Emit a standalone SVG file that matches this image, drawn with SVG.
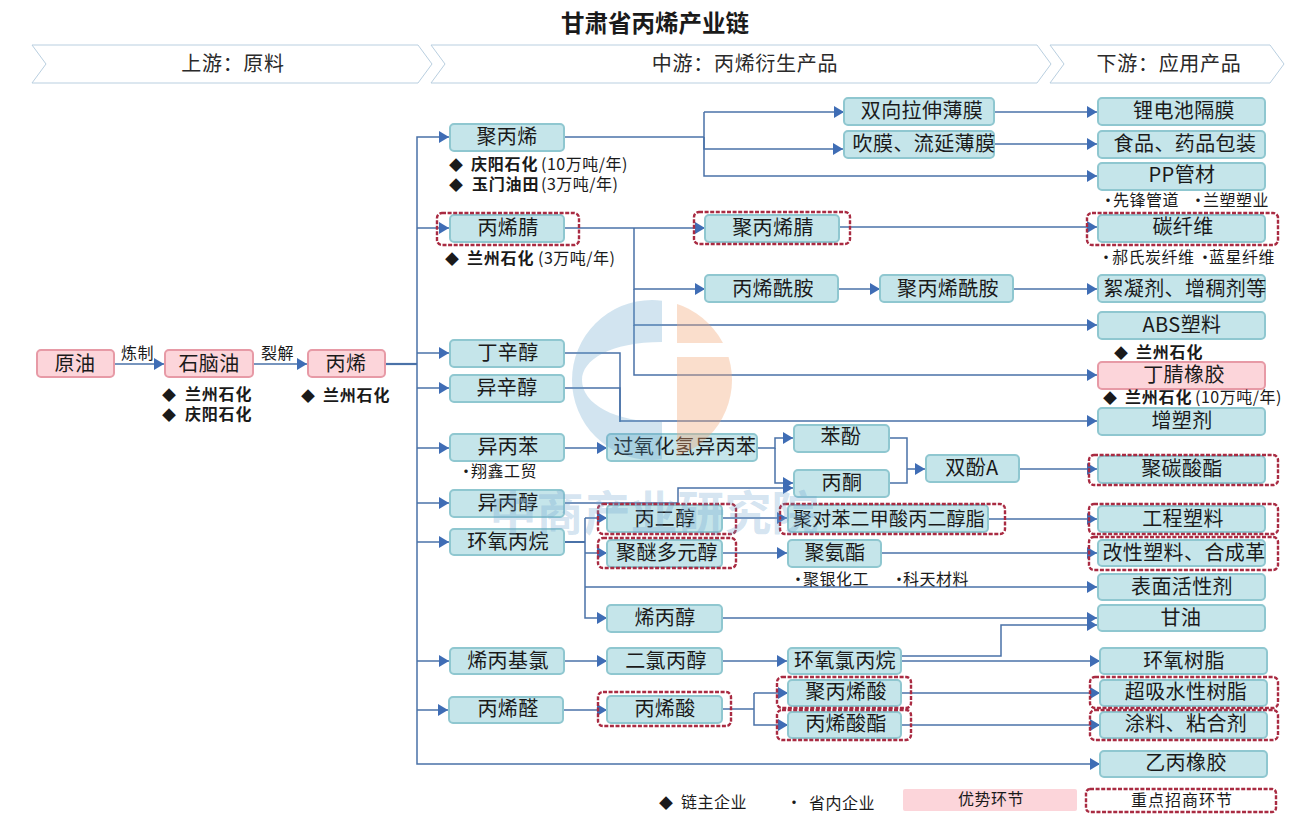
<svg xmlns="http://www.w3.org/2000/svg" width="1307" height="832" viewBox="0 0 1307 832">
<style>
text{font-family:"Noto Sans CJK SC","Noto Sans",sans-serif;fill:#1a1a1a}
.n{fill:#c5e5ea;stroke:#8fc7d0;stroke-width:2}
.p{fill:#fcd5da;stroke:#e79aa6;stroke-width:2}
.t{font-size:20px;text-anchor:middle;letter-spacing:.4px}
.h{font-size:20px;text-anchor:middle;fill:#2a2a2a;letter-spacing:.7px}
.d{fill:none;stroke:#a92b42;stroke-width:2.4;stroke-dasharray:4 1.6}
.c{fill:none;stroke:#4a72a8;stroke-width:1.5}
.co{font-size:16px;letter-spacing:.5px}
.bd{font-weight:700;letter-spacing:.8px}
.dm{font-size:14px}
.b{fill:#fff;stroke:#b9cfe0;stroke-width:1}
</style>
<defs>
<marker id="a" markerUnits="userSpaceOnUse" markerWidth="11" markerHeight="13" refX="10" refY="6" orient="auto"><path d="M0 0L10 6L0 12Z" fill="#3f6db5"/></marker>
<clipPath id="cl"><rect x="560" y="290" width="102" height="180"/></clipPath>
<clipPath id="cr"><path d="M677 290H740V343H677Z M677 357H740V470H677Z"/></clipPath>
</defs>
<rect width="1307" height="832" fill="#fff"/>
<text id="title" x="655" y="32" font-size="23.5" font-weight="700" text-anchor="middle">甘肃省丙烯产业链</text>
<g id="stage-headers">
<path class="b" d="M32 45H418L432 64L418 83H32L46 64Z"/><text class="h" x="233" y="71">上游：原料</text>
<path class="b" d="M431 45H1037L1051 64L1037 83H431L445 64Z"/><text class="h" x="745" y="71">中游：丙烯衍生产品</text>
<path class="b" d="M1050 45H1270L1284 64L1270 83H1050L1064 64Z"/><text class="h" x="1169" y="71">下游：应用产品</text>
</g>
<g id="connectors">
<path class="c" marker-end="url(#a)" d="M114 364H164"/>
<path class="c" marker-end="url(#a)" d="M253 364H307"/>
<path class="c" style="stroke-width:2.2" d="M385 364H417"/>
<path class="c" marker-end="url(#a)" d="M417 364V137H449"/>
<path class="c" marker-end="url(#a)" d="M417 228H449"/>
<path class="c" marker-end="url(#a)" d="M417 353H449"/>
<path class="c" marker-end="url(#a)" d="M417 388H449"/>
<path class="c" marker-end="url(#a)" d="M417 448H449"/>
<path class="c" marker-end="url(#a)" d="M417 503H449"/>
<path class="c" marker-end="url(#a)" d="M417 542H449"/>
<path class="c" marker-end="url(#a)" d="M417 661H449"/>
<path class="c" marker-end="url(#a)" d="M417 710H448"/>
<path class="c" marker-end="url(#a)" d="M417 364V764H1100"/>
<path class="c" d="M564 137H704"/>
<path class="c" marker-end="url(#a)" d="M704 112H844"/>
<path class="c" marker-end="url(#a)" d="M704 112V149H843"/>
<path class="c" marker-end="url(#a)" d="M704 137V176H1097"/>
<path class="c" marker-end="url(#a)" d="M994 112H1097"/>
<path class="c" marker-end="url(#a)" d="M994 144H1097"/>
<path class="c" marker-end="url(#a)" d="M564 228H705"/>
<path class="c" marker-end="url(#a)" d="M634 228V289H705"/>
<path class="c" marker-end="url(#a)" d="M634 289V325H1097"/>
<path class="c" marker-end="url(#a)" d="M634 325V375H1097"/>
<path class="c" marker-end="url(#a)" d="M839 227H1097"/>
<path class="c" marker-end="url(#a)" d="M838 289H880"/>
<path class="c" marker-end="url(#a)" d="M1013 289H1097"/>
<path class="c" d="M564 353H620V422"/>
<path class="c" marker-end="url(#a)" d="M564 388H620V421H1097"/>
<path class="c" marker-end="url(#a)" d="M564 448H607"/>
<path class="c" marker-end="url(#a)" d="M757 448H775V438H793"/>
<path class="c" marker-end="url(#a)" d="M775 448V483H793"/>
<path class="c" marker-end="url(#a)" d="M564 503H678V488H793"/>
<path class="c" d="M889 438H907V483H889"/>
<path class="c" marker-end="url(#a)" d="M907 469H925"/>
<path class="c" marker-end="url(#a)" d="M1019 469H1097"/>
<path class="c" style="stroke-width:2" d="M564 542H585"/>
<path class="c" marker-end="url(#a)" d="M585 518V618H607"/>
<path class="c" marker-end="url(#a)" d="M585 518H607"/>
<path class="c" marker-end="url(#a)" d="M585 553H607"/>
<path class="c" marker-end="url(#a)" d="M585 587H1097"/>
<path class="c" marker-end="url(#a)" d="M722 518H787"/>
<path class="c" marker-end="url(#a)" d="M988 519H1097"/>
<path class="c" marker-end="url(#a)" d="M722 553H787"/>
<path class="c" marker-end="url(#a)" d="M881 553H1097"/>
<path class="c" marker-end="url(#a)" d="M719 618H1097"/>
<path class="c" marker-end="url(#a)" d="M564 661H607"/>
<path class="c" marker-end="url(#a)" d="M722 661H787"/>
<path class="c" marker-end="url(#a)" d="M901 656H1001V625H1097"/>
<path class="c" marker-end="url(#a)" d="M901 661H1100"/>
<path class="c" marker-end="url(#a)" d="M564 710H607"/>
<path class="c" d="M722 709H754"/>
<path class="c" marker-end="url(#a)" d="M754 693V725H788"/>
<path class="c" marker-end="url(#a)" d="M754 693H788"/>
<path class="c" marker-end="url(#a)" d="M901 693H1100"/>
<path class="c" marker-end="url(#a)" d="M901 725H1100"/>
</g>
<g id="node-yuanyou"><rect class="p" x="37" y="350" width="77" height="27" rx="4"/><text class="t" x="75" y="371">原油</text></g>
<g id="node-naphtha"><rect class="p" x="165" y="350" width="88" height="27" rx="4"/><text class="t" x="209" y="371">石脑油</text></g>
<g id="node-propylene"><rect class="p" x="308" y="350" width="77" height="27" rx="4"/><text class="t" x="346" y="371">丙烯</text></g>
<g id="node-pp"><rect class="n" x="450" y="124" width="114" height="27" rx="4"/><text class="t" x="507" y="144">聚丙烯</text></g>
<g id="node-an"><rect class="n" x="450" y="215" width="114" height="27" rx="4"/><text class="t" x="508" y="235">丙烯腈</text></g>
<g id="node-butyl"><rect class="n" x="450" y="340" width="114" height="27" rx="4"/><text class="t" x="508" y="360">丁辛醇</text></g>
<g id="node-isooctyl"><rect class="n" x="450" y="375" width="114" height="27" rx="4"/><text class="t" x="507" y="395">异辛醇</text></g>
<g id="node-cumene"><rect class="n" x="450" y="434" width="114" height="27" rx="4"/><text class="t" x="508" y="454">异丙苯</text></g>
<g id="node-ipa"><rect class="n" x="450" y="490" width="114" height="27" rx="4"/><text class="t" x="508" y="510">异丙醇</text></g>
<g id="node-po"><rect class="n" x="450" y="529" width="114" height="26" rx="4"/><text class="t" x="508" y="549">环氧丙烷</text></g>
<g id="node-allylcl"><rect class="n" x="450" y="648" width="114" height="26" rx="4"/><text class="t" x="508" y="668">烯丙基氯</text></g>
<g id="node-acrolein"><rect class="n" x="449" y="697" width="114" height="26" rx="4"/><text class="t" x="508" y="716">丙烯醛</text></g>
<g id="node-bopp"><rect class="n" x="844" y="98" width="150" height="27" rx="4"/><text class="t" x="922" y="118">双向拉伸薄膜</text></g>
<g id="node-cast"><rect class="n" x="844" y="131" width="150" height="27" rx="4"/><text class="t" x="924" y="151">吹膜、流延薄膜</text></g>
<g id="node-pan"><rect class="n" x="705" y="215" width="134" height="27" rx="4"/><text class="t" x="773" y="235">聚丙烯腈</text></g>
<g id="node-am"><rect class="n" x="705" y="275" width="133" height="27" rx="4"/><text class="t" x="773" y="296">丙烯酰胺</text></g>
<g id="node-pam"><rect class="n" x="880" y="275" width="133" height="27" rx="4"/><text class="t" x="948" y="296">聚丙烯酰胺</text></g>
<g id="node-chp"><rect class="n" x="607" y="434" width="150" height="27" rx="4"/><text class="t" x="685" y="454">过氧化氢异丙苯</text></g>
<g id="node-phenol"><rect class="n" x="794" y="425" width="95" height="27" rx="4"/><text class="t" x="841" y="444">苯酚</text></g>
<g id="node-acetone"><rect class="n" x="794" y="470" width="95" height="27" rx="4"/><text class="t" x="842" y="490">丙酮</text></g>
<g id="node-bpa"><rect class="n" x="926" y="455" width="93" height="27" rx="4"/><text class="t" x="972" y="475">双酚A</text></g>
<g id="node-pdo"><rect class="n" x="607" y="505" width="115" height="27" rx="4"/><text class="t" x="665" y="526">丙二醇</text></g>
<g id="node-ptt"><rect class="n" x="788" y="505" width="200" height="27" rx="4"/><text class="t" x="889" y="526" style="font-size:19px;letter-spacing:.2px">聚对苯二甲酸丙二醇脂</text></g>
<g id="node-ppg"><rect class="n" x="607" y="540" width="115" height="27" rx="4"/><text class="t" x="667" y="560">聚醚多元醇</text></g>
<g id="node-pu"><rect class="n" x="788" y="540" width="93" height="27" rx="4"/><text class="t" x="835" y="560">聚氨酯</text></g>
<g id="node-allylol"><rect class="n" x="607" y="605" width="115" height="27" rx="4"/><text class="t" x="665" y="625">烯丙醇</text></g>
<g id="node-dcp"><rect class="n" x="607" y="648" width="115" height="26" rx="4"/><text class="t" x="666" y="668">二氯丙醇</text></g>
<g id="node-ech"><rect class="n" x="788" y="648" width="113" height="26" rx="4"/><text class="t" x="845" y="668">环氧氯丙烷</text></g>
<g id="node-aa"><rect class="n" x="607" y="696" width="115" height="27" rx="4"/><text class="t" x="665" y="716">丙烯酸</text></g>
<g id="node-paa"><rect class="n" x="788" y="680" width="113" height="26" rx="4"/><text class="t" x="846" y="699">聚丙烯酸</text></g>
<g id="node-ae"><rect class="n" x="788" y="712" width="113" height="26" rx="4"/><text class="t" x="846" y="731">丙烯酸酯</text></g>
<g id="node-libat"><rect class="n" x="1098" y="98" width="167" height="27" rx="4"/><text class="t" x="1184" y="118">锂电池隔膜</text></g>
<g id="node-food"><rect class="n" x="1098" y="131" width="167" height="27" rx="4"/><text class="t" x="1185" y="151">食品、药品包装</text></g>
<g id="node-pipe"><rect class="n" x="1098" y="163" width="167" height="27" rx="4"/><text class="t" x="1182" y="182">PP管材</text></g>
<g id="node-cf"><rect class="n" x="1098" y="215" width="167" height="27" rx="4"/><text class="t" x="1183" y="234">碳纤维</text></g>
<g id="node-floc"><rect class="n" x="1098" y="275" width="167" height="27" rx="4"/><text class="t" x="1185" y="296">絮凝剂、增稠剂等</text></g>
<g id="node-abs"><rect class="n" x="1098" y="312" width="167" height="27" rx="4"/><text class="t" x="1182" y="332">ABS塑料</text></g>
<g id="node-nbr"><rect class="p" x="1098" y="362" width="167" height="27" rx="4"/><text class="t" x="1184" y="382">丁腈橡胶</text></g>
<g id="node-plast"><rect class="n" x="1098" y="408" width="167" height="27" rx="4"/><text class="t" x="1182" y="428">增塑剂</text></g>
<g id="node-pc"><rect class="n" x="1098" y="456" width="167" height="27" rx="4"/><text class="t" x="1182" y="476">聚碳酸酯</text></g>
<g id="node-ep"><rect class="n" x="1098" y="506" width="167" height="26" rx="4"/><text class="t" x="1183" y="526">工程塑料</text></g>
<g id="node-mod"><rect class="n" x="1098" y="540" width="167" height="26" rx="4"/><text class="t" x="1184" y="560">改性塑料、合成革</text></g>
<g id="node-surf"><rect class="n" x="1098" y="574" width="167" height="26" rx="4"/><text class="t" x="1182" y="594">表面活性剂</text></g>
<g id="node-gly"><rect class="n" x="1098" y="605" width="167" height="26" rx="4"/><text class="t" x="1181" y="625">甘油</text></g>
<g id="node-epoxy"><rect class="n" x="1100" y="648" width="167" height="26" rx="4"/><text class="t" x="1184" y="668">环氧树脂</text></g>
<g id="node-sap"><rect class="n" x="1100" y="680" width="167" height="26" rx="4"/><text class="t" x="1186" y="699">超吸水性树脂</text></g>
<g id="node-coat"><rect class="n" x="1100" y="712" width="167" height="26" rx="4"/><text class="t" x="1186" y="731">涂料、粘合剂</text></g>
<g id="node-epr"><rect class="n" x="1100" y="751" width="167" height="26" rx="4"/><text class="t" x="1186" y="770">乙丙橡胶</text></g>
<g id="highlights">
<rect class="d" x="437" y="213" width="142" height="32" rx="5"/>
<rect class="d" x="694" y="212" width="156" height="32" rx="5"/>
<rect class="d" x="1087" y="213" width="191" height="32" rx="5"/>
<rect class="d" x="1089" y="455" width="189" height="30" rx="5"/>
<rect class="d" x="598" y="504" width="138" height="30" rx="5"/>
<rect class="d" x="780" y="504" width="225" height="30" rx="5"/>
<rect class="d" x="1089" y="504" width="189" height="30" rx="5"/>
<rect class="d" x="598" y="538" width="138" height="30" rx="5"/>
<rect class="d" x="1089" y="537" width="189" height="33" rx="5"/>
<rect class="d" x="598" y="692" width="133" height="34" rx="5"/>
<rect class="d" x="777" y="677" width="134" height="31" rx="5"/>
<rect class="d" x="777" y="710" width="134" height="30" rx="5"/>
<rect class="d" x="1090" y="677" width="188" height="31" rx="5"/>
<rect class="d" x="1090" y="710" width="188" height="30" rx="5"/>
</g>
<g id="labels">
<text class="co" x="121" y="359">炼制</text>
<text class="co" x="261" y="359">裂解</text>
<text class="co" y="400"><tspan class="dm" x="162">◆</tspan><tspan class="bd" x="185">兰州石化</tspan></text>
<text class="co" y="420"><tspan class="dm" x="162">◆</tspan><tspan class="bd" x="185">庆阳石化</tspan></text>
<text class="co" y="401"><tspan class="dm" x="301">◆</tspan><tspan class="bd" x="323">兰州石化</tspan></text>
<text class="co" y="170"><tspan class="dm" x="449">◆</tspan><tspan class="bd" x="471">庆阳石化</tspan><tspan x="541">(10万吨/年)</tspan></text>
<text class="co" y="190"><tspan class="dm" x="449">◆</tspan><tspan class="bd" x="472">玉门油田</tspan><tspan x="541">(3万吨/年)</tspan></text>
<text class="co" y="264"><tspan class="dm" x="445">◆</tspan><tspan class="bd" x="467">兰州石化</tspan><tspan x="538">(3万吨/年)</tspan></text>
<text class="co" y="206"><tspan x="1100">•</tspan><tspan x="1113">先锋管道</tspan><tspan x="1190">•</tspan><tspan x="1203">兰塑塑业</tspan></text>
<text class="co" y="263"><tspan x="1098">•</tspan><tspan x="1112">郝氏炭纤维</tspan><tspan x="1197">•</tspan><tspan x="1209">蓝星纤维</tspan></text>
<text class="co" y="358"><tspan class="dm" x="1114">◆</tspan><tspan class="bd" x="1136">兰州石化</tspan></text>
<text class="co" y="403"><tspan class="dm" x="1103">◆</tspan><tspan class="bd" x="1125">兰州石化</tspan><tspan x="1195">(10万吨/年)</tspan></text>
<text class="co" y="477"><tspan x="458">•</tspan><tspan x="471">翔鑫工贸</tspan></text>
<text class="co" y="585"><tspan x="790">•</tspan><tspan x="803">聚银化工</tspan></text>
<text class="co" y="585"><tspan x="891">•</tspan><tspan x="903">科天材料</tspan></text>
</g>
<g id="legend">
<text class="co" y="808"><tspan class="dm" x="659">◆</tspan><tspan x="681">链主企业</tspan></text>
<text class="co" x="786" y="808">•</text>
<text class="co" x="809" y="809">省内企业</text>
<rect x="903" y="789" width="174" height="22" rx="2" fill="#fcd5da"/>
<text class="co" x="991" y="805" text-anchor="middle">优势环节</text>
<rect class="d" x="1086" y="789" width="190" height="23" rx="4"/>
<text class="co" x="1182" y="806" text-anchor="middle" style="letter-spacing:1px">重点招商环节</text>
</g>
<g id="watermark">
<path clip-path="url(#cl)" fill-rule="evenodd" d="M652 300A80 80 0 1 0 652 460A80 80 0 1 0 652 300ZM662 342C610 342 582 360 582 380C582 404 615 422 662 422Z" fill="#5e9fc8" fill-opacity=".28"/>
<circle clip-path="url(#cr)" cx="652" cy="380" r="80" fill="#f3a77a" fill-opacity=".38"/>
<text x="654" y="530" font-size="47" text-anchor="middle" font-weight="700" style="fill:#6fa3cf" fill-opacity=".3">中商产业研究院</text>
</g>
</svg>
